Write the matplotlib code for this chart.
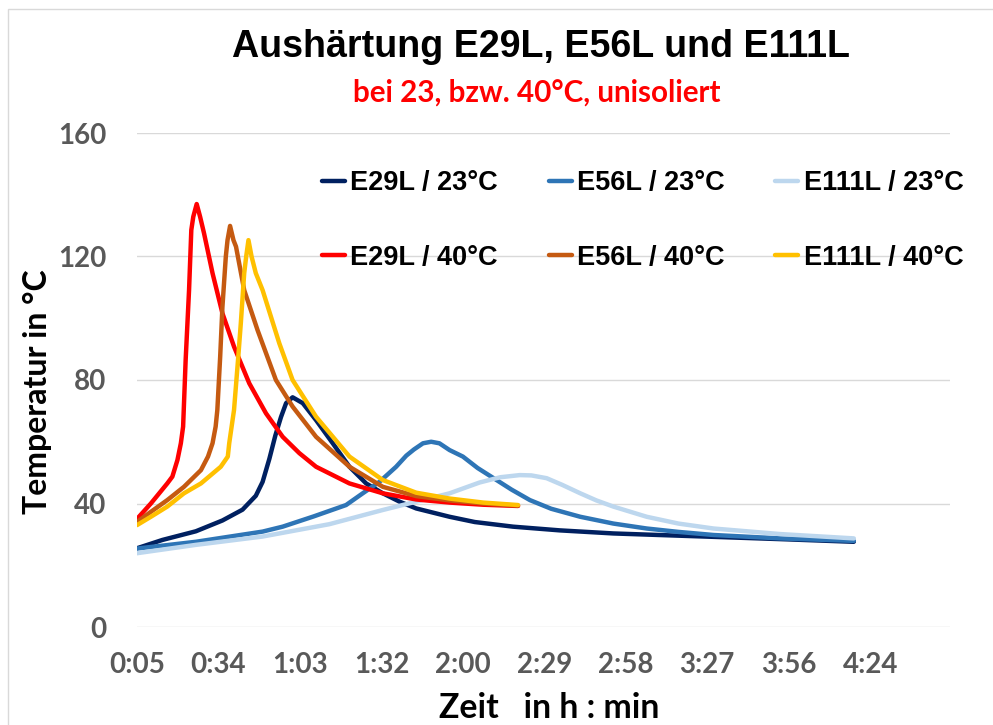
import matplotlib
matplotlib.use("Agg")
import matplotlib.pyplot as plt
from matplotlib.patches import Rectangle

# time in minutes, temperature in °C
e29_23_t = [5.6, 14.6, 26.4, 35.8, 42.9, 47.6, 50.0, 52.4, 54.5, 56.5, 58.3, 60.6, 64.2, 68.9, 74.8,
            80.7, 86.6, 92.5, 98.4, 104.3, 116.1, 125, 138.5, 155, 174, 190, 209.4, 235, 259]
e29_23_v = [25.5, 28.2, 31.0, 34.5, 38.0, 42.5, 47.0, 54.5, 62.0, 68.0, 72.5, 74.4, 72.5, 67.0, 59.5,
            51.9, 46.5, 43.3, 40.6, 38.4, 35.7, 34.0, 32.5, 31.3, 30.3, 29.8, 29.2, 28.4, 27.6]

e56_23_t = [5.6, 26.4, 50, 57.1, 68, 79.5, 85.4, 91.3, 97.2, 100.8, 103.5, 106.7, 109.6, 112.5, 116.1,
            120.8, 126, 132.7, 138, 144.5, 152, 162.3, 174, 185.8, 197, 209.4, 233, 259]
e56_23_v = [25.4, 27.6, 30.9, 32.5, 35.8, 39.5, 43.3, 47.0, 51.9, 55.5, 57.5, 59.5, 60.0, 59.5, 57.3,
            55.2, 51.5, 47.6, 44.5, 41.1, 38.3, 35.7, 33.5, 31.9, 30.8, 29.8, 28.7, 27.9]

e111_23_t = [5.6, 26.4, 50, 73.6, 92.5, 116.1, 126.7, 134, 140.9, 145, 150.4, 156, 162.3, 168, 174,
             185.8, 197, 209.4, 233, 259]
e111_23_v = [23.9, 26.6, 29.3, 33.3, 37.9, 43.3, 46.8, 48.5, 49.2, 49.1, 48.2, 46.0, 43.3, 41.0, 39.0,
             35.7, 33.5, 31.9, 30.1, 28.7]

e29_40_t = [5.6, 10.5, 16.3, 18.1, 19.9, 21.1, 21.9, 22.8, 24.0, 24.8, 25.5, 26.7, 27.9, 29.3, 32.3, 35.8,
            39.9, 45.3, 51.2, 57.1, 63.0, 68.9, 80.7, 92.5, 104.3, 116.1, 128, 140.3]
e29_40_v = [35.0, 40.0, 46.5, 48.7, 54.1, 59.5, 64.9, 86.5, 109.1, 128.6, 132.9, 137.0, 132.9, 127.5, 114.6, 101.6,
            90.8, 78.9, 69.2, 61.6, 56.3, 51.9, 46.5, 43.3, 41.3, 40.3, 39.6, 39.2]

e56_40_t = [5.6, 10.5, 16.3, 22.2, 28.2, 30.7, 32.3, 33.4, 34.0, 35.0, 35.8, 37.0, 37.6, 38.5, 39.7, 40.6,
            43.5, 48.2, 54.7, 60.6, 68.9, 80.7, 92.5, 104.3, 116.1, 128, 140.3]
e56_40_v = [34.0, 37.3, 41.1, 45.4, 50.8, 55.2, 59.5, 64.9, 70.3, 87.5, 103.7, 120.0, 125.3, 129.9, 125.3, 123.2,
            109.1, 96.2, 80.0, 71.4, 61.6, 51.9, 45.4, 42.4, 41.0, 40.0, 39.3]

e111_40_t = [5.6, 10.5, 16.3, 22.2, 28.2, 35.2, 37.7, 38.2, 39.9, 41.4, 42.3, 43.5, 44.2, 45.0, 46.1, 47.6,
             50.0, 55.9, 60.6, 68.9, 80.7, 92.5, 104.3, 116.1, 128, 140.3]
e111_40_v = [33.0, 35.7, 39.0, 43.3, 46.5, 51.9, 55.2, 59.5, 70.3, 87.5, 98.4, 114.6, 120.0, 125.3, 120.0, 114.6,
             109.1, 91.9, 80.0, 68.1, 55.2, 47.6, 43.5, 41.6, 40.3, 39.5]

tick_labels = ["0:05", "0:34", "1:03", "1:32", "2:00", "2:29", "2:58", "3:27", "3:56", "4:24"]
tick_pos = [5.6 + 28.8 * k for k in range(len(tick_labels))]

series = [
    (e29_23_t, e29_23_v, "E29L / 23°C", "#002060"),
    (e56_23_t, e56_23_v, "E56L / 23°C", "#2E75B6"),
    (e111_23_t, e111_23_v, "E111L / 23°C", "#BDD7EE"),
    (e29_40_t, e29_40_v, "E29L / 40°C", "#FF0000"),
    (e56_40_t, e56_40_v, "E56L / 40°C", "#C55A11"),
    (e111_40_t, e111_40_v, "E111L / 40°C", "#FFC000"),
]

W, H = 993, 725
fig = plt.figure(figsize=(W / 100, H / 100), dpi=100)
fig.patches.append(Rectangle((8 / W, -0.1), 1.2, 1 - 9 / H + 0.1, transform=fig.transFigure,
                             fill=False, edgecolor="#d9d9d9", linewidth=1))

ax = fig.add_axes([137 / W, 1 - 627 / H, (950 - 137) / W, (627 - 133) / H])
lines = {}
for t, v, lab, col in series:
    ln, = ax.plot(t, v, color=col, lw=3.2, label=lab, solid_capstyle="round", solid_joinstyle="round")
    lines[lab] = ln

ax.set_xlim(5.6, 293)
ax.set_ylim(0, 160)
ax.set_yticks([0, 40, 80, 120, 160])
ax.set_xticks(tick_pos)
ax.set_xticklabels(tick_labels)
ax.grid(axis="y", color="#d9d9d9", lw=1)
ax.grid(axis="x", visible=False)
ax.set_axisbelow(True)
for s in ax.spines.values():
    s.set_visible(False)
ax.tick_params(length=0, labelcolor="#595959", labelsize=20)
ax.tick_params(axis="y", pad=22)
ax.tick_params(axis="x", pad=18)
for lbl in ax.get_xticklabels() + ax.get_yticklabels():
    lbl.set_fontfamily("Lato")
    lbl.set_fontweight("bold")

# legend: rows = temperature, columns = resin
order = ["E29L / 23°C", "E29L / 40°C", "E56L / 23°C", "E56L / 40°C", "E111L / 23°C", "E111L / 40°C"]
fig.legend([lines[k] for k in order], order, loc="upper left", bbox_to_anchor=(322 / W, 1 - 170 / H),
           ncol=3, frameon=False, borderpad=0, borderaxespad=0, handlelength=0.85, handletextpad=0.2,
           columnspacing=1.87, labelspacing=1.8,
           prop={"family": "Liberation Sans", "weight": "bold", "size": 19.5})

fig.text(541 / W, 1 - 47 / H, "Aushärtung E29L, E56L und E111L", ha="center", va="center",
         fontsize=27.1, fontweight="bold", family="Liberation Sans")
fig.text(537 / W, 1 - 93 / H, "bei 23, bzw. 40°C, unisoliert", ha="center", va="center",
         fontsize=21.3, fontweight="bold", family="Lato", color="#FF0000")
fig.text(37 / W, 1 - 392 / H, "Temperatur in °C", rotation=90, ha="center", va="center",
         fontsize=23, fontweight="bold", family="Lato")
fig.text(549 / W, 1 - 708 / H, "Zeit   in h : min", ha="center", va="center",
         fontsize=24.3, fontweight="bold", family="Lato")

fig.savefig("out.png", dpi=100)
